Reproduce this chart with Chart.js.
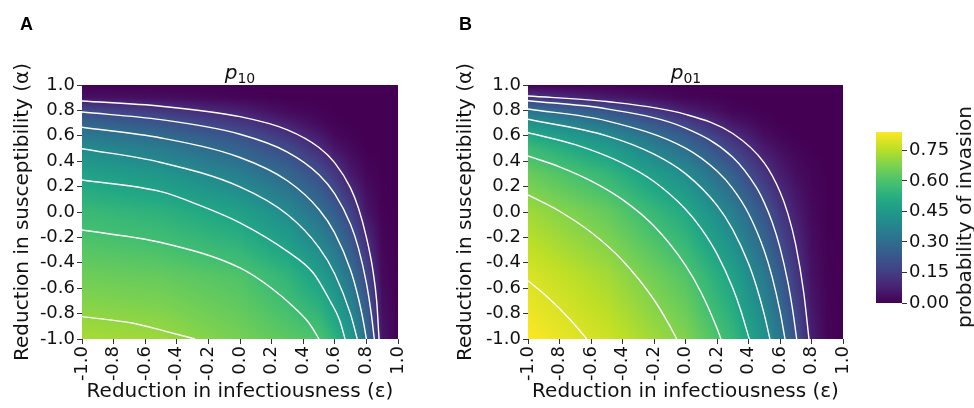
<!DOCTYPE html>
<html>
<head>
<meta charset="utf-8">
<script src="https://cdn.jsdelivr.net/npm/chart.js@4.4.0/dist/chart.umd.min.js"></script>
<style>
  html, body { margin: 0; padding: 0; background: #fff; }
  #page { position: relative; width: 974px; height: 408px; overflow: hidden; font-family: 'DejaVu Sans', sans-serif; color: #111; }
  .box { position: absolute; top: 0; }
  .letter { position: absolute; top: 15px; font: bold 18px 'Liberation Sans', Arial, sans-serif; line-height: 18px; color: #000; }
  .ptitle { position: absolute; top: 62px; width: 120px; text-align: center; font-size: 20px; line-height: 20px; }
  .ptitle i { font-style: italic; }
  .ptitle span { font-size: 14px; position: relative; top: 4px; }
  #cbar-label { position: absolute; left: 964px; top: 217px; white-space: nowrap; font-size: 20px; line-height: 20px;
                transform: translate(-50%, -50%) rotate(-90deg); }
</style>
</head>
<body>
<div id="page">
  <div class="box" style="left:0;width:440px;height:408px"><canvas id="chartA" width="440" height="408"></canvas></div>
  <div class="box" style="left:440px;width:440px;height:408px"><canvas id="chartB" width="440" height="408"></canvas></div>
  <div class="box" style="left:860px;width:114px;height:408px"><canvas id="cbar" width="114" height="408"></canvas></div>
  <div class="letter" style="left:20px">A</div>
  <div class="letter" style="left:459px">B</div>
  <div class="ptitle" style="left:180px"><i>p</i><span>10</span></div>
  <div class="ptitle" style="left:626px"><i>p</i><span>01</span></div>
  <div id="cbar-label">probability of invasion</div>
</div>
<script>
// grid positions (reduction in infectiousness / susceptibility)
const epsGrid = [-1, -0.5, 0, 0.3, 0.5, 0.6, 0.7, 0.8, 0.9, 1];
const alphaGrid = [-1, -0.5, 0, 0.3, 0.5, 0.6, 0.7, 0.8, 0.9, 1];

// probability of invasion, one row per alpha value (bottom to top)
const p10Grid = [
  [0.73, 0.715, 0.664, 0.625, 0.60, 0.54, 0.455, 0.30, 0.05, 0],
  [0.652, 0.638, 0.604, 0.545, 0.47, 0.404, 0.312, 0.183, 0.02, 0],
  [0.564, 0.535, 0.475, 0.395, 0.307, 0.246, 0.166, 0.05, 0.005, 0],
  [0.48, 0.438, 0.356, 0.276, 0.198, 0.136, 0.06, 0.015, 0, 0],
  [0.40, 0.345, 0.261, 0.184, 0.104, 0.05, 0.02, 0, 0, 0],
  [0.34, 0.288, 0.207, 0.127, 0.06, 0.02, 0.005, 0, 0, 0],
  [0.27, 0.219, 0.137, 0.07, 0.02, 0.005, 0, 0, 0, 0],
  [0.185, 0.131, 0.07, 0.02, 0.005, 0, 0, 0, 0, 0],
  [0.04, 0.03, 0.01, 0, 0, 0, 0, 0, 0, 0],
  [0, 0, 0, 0, 0, 0, 0, 0, 0, 0]
];
const p01Grid = [
  [0.84, 0.778, 0.68, 0.558, 0.427, 0.333, 0.208, 0.07, 0.01, 0],
  [0.794, 0.725, 0.611, 0.479, 0.339, 0.244, 0.135, 0.04, 0.005, 0],
  [0.72, 0.64, 0.505, 0.357, 0.22, 0.136, 0.07, 0.02, 0, 0],
  [0.646, 0.553, 0.401, 0.253, 0.128, 0.07, 0.03, 0.01, 0, 0],
  [0.568, 0.463, 0.301, 0.163, 0.06, 0.03, 0.01, 0, 0, 0],
  [0.513, 0.40, 0.239, 0.11, 0.03, 0.01, 0, 0, 0, 0],
  [0.428, 0.315, 0.164, 0.05, 0.01, 0, 0, 0, 0, 0],
  [0.314, 0.213, 0.07, 0.01, 0, 0, 0, 0, 0, 0],
  [0.135, 0.06, 0.01, 0, 0, 0, 0, 0, 0, 0],
  [0, 0, 0, 0, 0, 0, 0, 0, 0, 0]
];

// contour lines, levels 0.1 .. 0.7 / 0.8, as [eps, alpha] pairs
const p10Contours = [
  [[-1, 0.874], [-0.5, 0.833], [0, 0.751], [0.3, 0.647], [0.5, 0.508], [0.6, 0.387], [0.7, 0.188], [0.75, 0.029], [0.8, -0.2], [0.84, -0.45], [0.865, -0.7], [0.88, -1]],
  [[-1, 0.787], [-0.5, 0.727], [0, 0.612], [0.3, 0.472], [0.5, 0.294], [0.6, 0.143], [0.7, -0.098], [0.75, -0.286], [0.8, -0.56], [0.83, -0.795], [0.85, -1]],
  [[-1, 0.667], [-0.5, 0.583], [0, 0.429], [0.3, 0.246], [0.5, 0.02], [0.6, -0.166], [0.7, -0.459], [0.75, -0.681], [0.78, -0.857], [0.8, -1]],
  [[-1, 0.498], [-0.5, 0.39], [0, 0.198], [0.3, -0.02], [0.5, -0.28], [0.6, -0.488], [0.7, -0.806], [0.742, -1]],
  [[-1, 0.252], [-0.5, 0.16], [-0.25, 0.05], [0, -0.085], [0.3, -0.31], [0.464, -0.48], [0.57, -0.7], [0.63, -0.85], [0.665, -1]],
  [[-1, -0.142], [-0.5, -0.24], [0, -0.44], [0.2, -0.6], [0.35, -0.76], [0.44, -0.88], [0.5, -1]],
  [[-1, -0.824], [-0.675, -0.876], [-0.464, -0.942], [-0.285, -1]]
];
const p01Contours = [
  [[-1, 0.913], [-0.5, 0.87], [0, 0.769], [0.3, 0.618], [0.5, 0.387], [0.6, 0.16], [0.65, -0.013], [0.7, -0.259], [0.75, -0.628], [0.784, -1]],
  [[-1, 0.876], [-0.5, 0.812], [0, 0.661], [0.3, 0.432], [0.45, 0.194], [0.5, 0.074], [0.55, -0.079], [0.6, -0.28], [0.65, -0.553], [0.68, -0.769], [0.706, -1]],
  [[-1, 0.811], [-0.5, 0.718], [0, 0.503], [0.2, 0.322], [0.3, 0.184], [0.4, -0.012], [0.5, -0.305], [0.55, -0.511], [0.6, -0.781], [0.632, -1]],
  [[-1, 0.73], [-0.5, 0.6], [-0.2, 0.456], [0, 0.302], [0.2, 0.052], [0.3, -0.139], [0.4, -0.406], [0.45, -0.585], [0.5, -0.806], [0.536, -1]],
  [[-1, 0.624], [-0.7, 0.53], [-0.4, 0.385], [-0.2, 0.24], [0, 0.022], [0.1, -0.131], [0.2, -0.33], [0.3, -0.598], [0.35, -0.771], [0.405, -1]],
  [[-1, 0.441], [-0.8, 0.356], [-0.6, 0.245], [-0.4, 0.097], [-0.2, -0.111], [0, -0.42], [0.1, -0.636], [0.2, -0.916], [0.225, -1]],
  [[-1, 0.134], [-0.8, 0.006], [-0.6, -0.16], [-0.4, -0.382], [-0.2, -0.691], [-0.1, -0.896], [-0.056, -1]],
  [[-1, -0.541], [-0.9, -0.644], [-0.8, -0.76], [-0.7, -0.892], [-0.627, -1]]
];

const colorMax = 0.84;
const colorTicks = [0, 0.15, 0.3, 0.45, 0.6, 0.75];

const viridisStops = ['#440154', '#482475', '#414487', '#355f8d', '#2a788e', '#21918c',
                      '#22a884', '#44bf70', '#7ad151', '#bddf26', '#fde725']
  .map(h => [1, 3, 5].map(k => parseInt(h.slice(k, k + 2), 16)));

function viridis(t) {
  t = Math.min(1, Math.max(0, t)) * (viridisStops.length - 1);
  const i = Math.min(Math.floor(t), viridisStops.length - 2);
  const f = t - i;
  const a = viridisStops[i], b = viridisStops[i + 1];
  return [0, 1, 2].map(k => Math.round(a[k] + (b[k] - a[k]) * f));
}

function locate(grid, v) {
  let i = 0;
  while (i < grid.length - 2 && v > grid[i + 1]) i++;
  const t = Math.min(1, Math.max(0, (v - grid[i]) / (grid[i + 1] - grid[i])));
  return [i, t];
}

function sampleGrid(rows, e, a) {
  const [i, tx] = locate(epsGrid, e);
  const [j, ty] = locate(alphaGrid, a);
  const lo = rows[j][i] * (1 - tx) + rows[j][i + 1] * tx;
  const hi = rows[j + 1][i] * (1 - tx) + rows[j + 1][i + 1] * tx;
  return lo * (1 - ty) + hi * ty;
}

// paints the probability surface under the contour lines
function heatLayer(rows) {
  return {
    id: 'heatLayer',
    beforeDatasetsDraw(chart) {
      const { ctx, chartArea: area, scales: { x, y } } = chart;
      const left = Math.round(area.left), top = Math.round(area.top);
      const w = Math.round(area.right) - left, h = Math.round(area.bottom) - top;
      const img = ctx.createImageData(w, h);
      for (let j = 0; j < h; j++) {
        const av = y.getValueForPixel(top + j + 0.5);
        for (let i = 0; i < w; i++) {
          const ev = x.getValueForPixel(left + i + 0.5);
          const c = viridis(sampleGrid(rows, ev, av) / colorMax);
          const k = (j * w + i) * 4;
          img.data[k] = c[0];
          img.data[k + 1] = c[1];
          img.data[k + 2] = c[2];
          img.data[k + 3] = 255;
        }
      }
      ctx.putImageData(img, left, top);
    }
  };
}

const colorbarFill = {
  id: 'colorbarFill',
  beforeDatasetsDraw(chart) {
    const { ctx, chartArea: area, scales: { y } } = chart;
    for (let py = Math.round(area.top); py < Math.round(area.bottom); py++) {
      const c = viridis(y.getValueForPixel(py + 0.5) / colorMax);
      ctx.fillStyle = `rgb(${c[0]},${c[1]},${c[2]})`;
      ctx.fillRect(area.left, py, area.right - area.left, 1);
    }
  }
};

const tickFont = { family: 'DejaVu Sans', size: 18 };
const titleFont = { family: 'DejaVu Sans', size: 20 };
const textColor = '#111';
const fmt1 = v => (Math.abs(v) < 1e-9 ? 0 : v).toFixed(1);

function heatOptions(yWidth, padRight, yTitlePad) {
  return {
    responsive: false,
    animation: false,
    layout: { padding: { left: 0, right: padRight, top: 85, bottom: 0 } },
    plugins: { legend: { display: false }, tooltip: { enabled: false } },
    scales: {
      x: {
        type: 'linear', min: -1, max: 1,
        ticks: { stepSize: 0.2, autoSkip: false, minRotation: 90, maxRotation: 90, padding: 2,
                 font: tickFont, color: textColor, callback: fmt1 },
        grid: { drawOnChartArea: false, tickLength: 5, color: '#333' },
        border: { display: false },
        title: { display: true, text: 'Reduction in infectiousness (ε)', font: titleFont, color: textColor,
                 padding: { top: 0, bottom: 4 } },
        afterFit(scale) { scale.height = 69; }
      },
      y: {
        type: 'linear', min: -1, max: 1,
        ticks: { stepSize: 0.2, autoSkip: false, padding: 2, font: tickFont, color: textColor, callback: fmt1 },
        grid: { drawOnChartArea: false, tickLength: 5, color: '#333' },
        border: { display: false },
        title: { display: true, text: 'Reduction in susceptibility (α)', font: titleFont, color: textColor,
                 padding: { top: yTitlePad, bottom: 0 } },
        afterFit(scale) { scale.width = yWidth; }
      }
    }
  };
}

function contourSets(lines) {
  return lines.map(pts => ({
    data: pts.map(([x, y]) => ({ x, y })),
    showLine: true,
    borderColor: '#ffffff',
    borderWidth: 1.4,
    pointRadius: 0,
    cubicInterpolationMode: 'monotone'
  }));
}

new Chart(document.getElementById('chartA'), {
  type: 'scatter',
  data: { datasets: contourSets(p10Contours) },
  options: heatOptions(82, 42, 11),
  plugins: [heatLayer(p10Grid)]
});

new Chart(document.getElementById('chartB'), {
  type: 'scatter',
  data: { datasets: contourSets(p01Contours) },
  options: heatOptions(88, 37, 14),
  plugins: [heatLayer(p01Grid)]
});

new Chart(document.getElementById('cbar'), {
  type: 'scatter',
  data: { datasets: [] },
  options: {
    responsive: false,
    animation: false,
    layout: { padding: { left: 16, right: 0, top: 132, bottom: 105 } },
    plugins: { legend: { display: false }, tooltip: { enabled: false } },
    scales: {
      x: { display: false, min: 0, max: 1 },
      y: {
        position: 'right', min: 0, max: colorMax,
        afterBuildTicks(scale) { scale.ticks = colorTicks.map(value => ({ value })); },
        ticks: { padding: 2, font: tickFont, color: textColor, callback: v => v.toFixed(2) },
        grid: { drawOnChartArea: false, tickLength: 5, color: '#333' },
        border: { display: false },
        afterFit(scale) { scale.width = 72; }
      }
    }
  },
  plugins: [colorbarFill]
});
</script>
</body>
</html>
